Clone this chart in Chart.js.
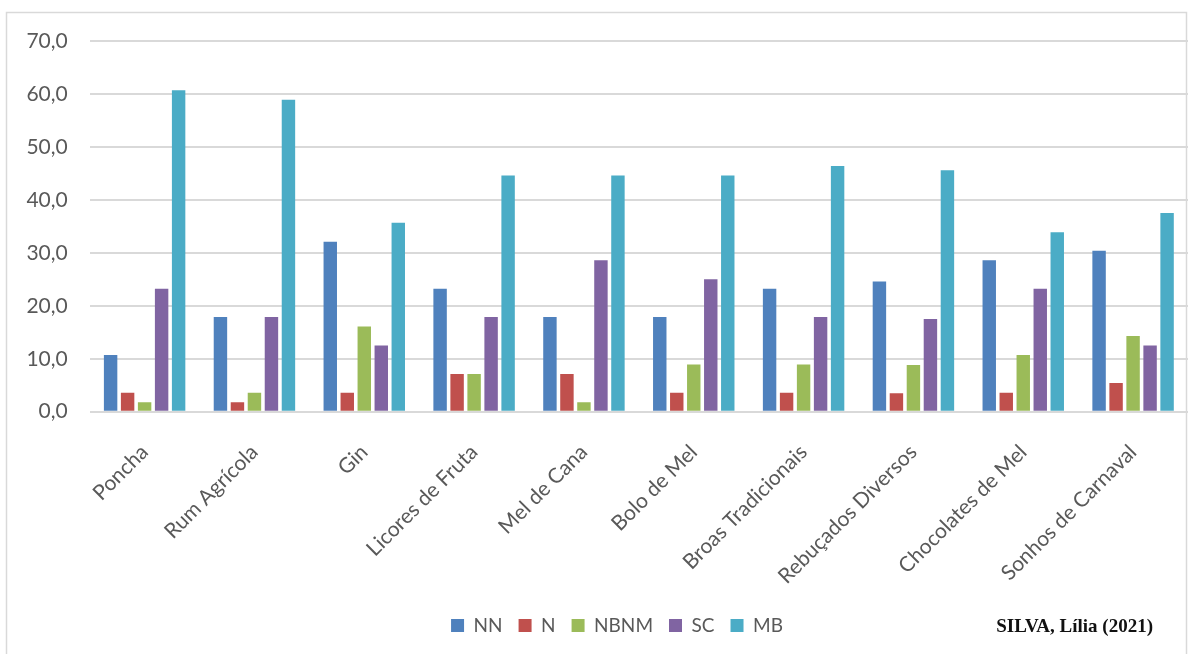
<!DOCTYPE html>
<html>
<head>
<meta charset="utf-8">
<script src="https://cdn.jsdelivr.net/npm/chart.js@4.4.0/dist/chart.umd.min.js"></script>
<style>
  html, body { margin: 0; padding: 0; background: #fff; }
  #wrap { position: relative; width: 1203px; height: 654px; }
</style>
</head>
<body>
<div id="wrap"><canvas id="produtos-chart" width="1203" height="654"></canvas></div>
<script>
var categorias = ['Poncha', 'Rum Agrícola', 'Gin', 'Licores de Fruta', 'Mel de Cana', 'Bolo de Mel',
    'Broas Tradicionais', 'Rebuçados Diversos', 'Chocolates de Mel', 'Sonhos de Carnaval'];

// percentagens por produto (%)
var valoresNN   = [10.7, 17.9, 32.1, 23.2, 17.9, 17.9, 23.2, 24.6, 28.6, 30.4];
var valoresN    = [3.6, 1.8, 3.6, 7.1, 7.1, 3.6, 3.6, 3.5, 3.6, 5.4];
var valoresNBNM = [1.8, 3.6, 16.1, 7.1, 1.8, 8.9, 8.9, 8.8, 10.7, 14.3];
var valoresSC   = [23.2, 17.9, 12.5, 17.9, 28.6, 25.0, 17.9, 17.5, 23.2, 12.5];
var valoresMB   = [60.7, 58.9, 35.7, 44.6, 44.6, 44.6, 46.4, 45.6, 33.9, 37.5];

var eixoY = { min: 0, max: 70, passo: 10 };
var fonteTexto = 'Lato, "Open Sans", sans-serif';

// moldura cinzenta, legenda deslocada e referência da fonte
var molduraPlugin = {
    id: 'moldura',
    afterLayout: function (chart) {
        // a legenda fica um pouco à direita do centro do canvas
        var dx = 23;
        chart.legend.left += dx;
        chart.legend.right += dx;
    },
    beforeDraw: function (chart) {
        var ctx = chart.ctx;
        ctx.save();
        ctx.fillStyle = '#ffffff';
        ctx.fillRect(0, 0, chart.width, chart.height);
        ctx.strokeStyle = '#d9d9d9';
        ctx.lineWidth = 1.5;
        ctx.strokeRect(6.5, 12.5, 1180, 650);
        ctx.restore();
    },
    afterDraw: function (chart) {
        var ctx = chart.ctx;
        ctx.save();
        ctx.font = 'bold 19px "Liberation Serif", "Times New Roman", serif';
        ctx.fillStyle = '#111111';
        ctx.textAlign = 'right';
        ctx.textBaseline = 'alphabetic';
        ctx.fillText('SILVA, Lília (2021)', 1153, 632);
        ctx.restore();
    }
};

var ctx = document.getElementById('produtos-chart').getContext('2d');
var produtosChart = new Chart(ctx, {
    type: 'bar',
    data: {
        labels: categorias,
        datasets: [
            { label: 'NN', data: valoresNN, backgroundColor: '#4F81BD' },
            { label: 'N', data: valoresN, backgroundColor: '#C0504D' },
            { label: 'NBNM', data: valoresNBNM, backgroundColor: '#9BBB59' },
            { label: 'SC', data: valoresSC, backgroundColor: '#8064A2' },
            { label: 'MB', data: valoresMB, backgroundColor: '#4BACC6' }
        ]
    },
    options: {
        responsive: false,
        animation: false,
        devicePixelRatio: 1,
        layout: { padding: { top: 41, left: 0, right: 15, bottom: 9 } },
        datasets: {
            bar: { categoryPercentage: 0.774, barPercentage: 0.79, borderWidth: 0 }
        },
        scales: {
            x: {
                grid: { display: false, drawTicks: false },
                border: { display: false },
                ticks: {
                    color: '#595959',
                    font: { family: fonteTexto, size: 21 },
                    minRotation: 45,
                    maxRotation: 45,
                    padding: 28,
                    autoSkip: false
                },
                afterFit: function (scale) { scale.height = 188.3; }
            },
            y: {
                min: eixoY.min,
                max: eixoY.max,
                grid: { color: '#d9d9d9', lineWidth: 2, drawTicks: false },
                border: { display: false },
                ticks: {
                    stepSize: eixoY.passo,
                    color: '#595959',
                    font: { family: fonteTexto, size: 21 },
                    padding: 22,
                    callback: function (v) { return v.toFixed(1).replace('.', ','); }
                },
                afterFit: function (scale) { scale.width = 89.7; }
            }
        },
        plugins: {
            legend: {
                position: 'bottom',
                labels: {
                    color: '#595959',
                    font: { family: fonteTexto, size: 19 },
                    boxWidth: 13,
                    boxHeight: 13,
                    padding: 16
                }
            },
            tooltip: { enabled: false }
        }
    },
    plugins: [molduraPlugin]
});
</script>
</body>
</html>
